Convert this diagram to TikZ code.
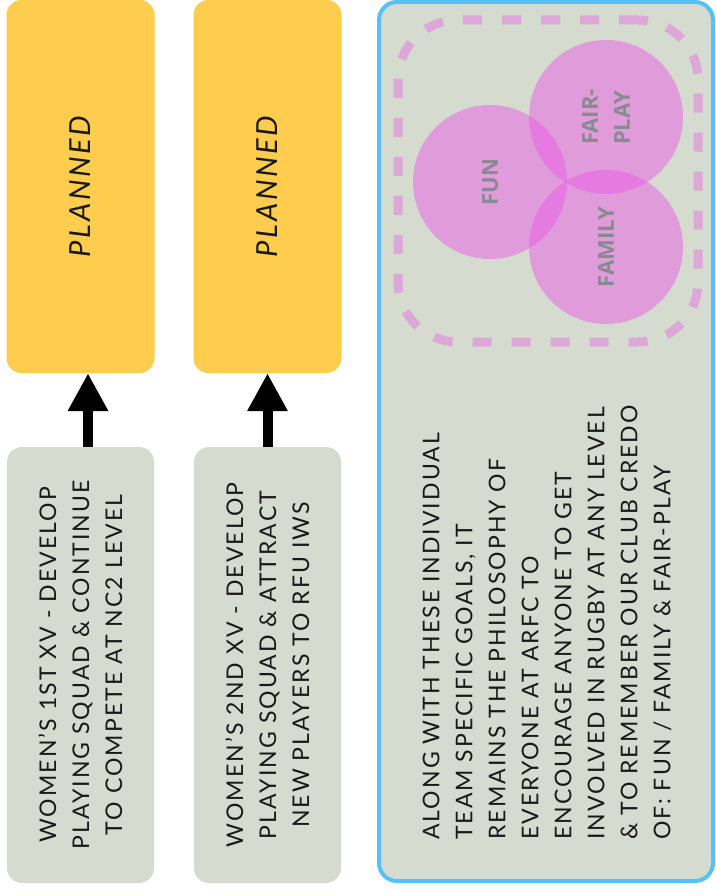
\documentclass[tikz,border=0pt]{standalone}
\usepackage{fontspec}
\setmainfont{Lato}
\newfontfamily\bodyfont[LetterSpace=9]{Lato}
\newfontfamily\vennfont{Open Sans}
\usetikzlibrary{arrows.meta}

\definecolor{planyellow}{RGB}{255,205,77}
\definecolor{goalgrey}{RGB}{214,219,208}
\definecolor{panelblue}{RGB}{85,193,247}
\definecolor{vennpink}{RGB}{234,93,230}
\definecolor{framepink}{RGB}{221,168,216}
\definecolor{vennlabel}{RGB}{135,139,144}
\definecolor{inkblack}{RGB}{25,25,25}

\tikzset{
  planbox/.style={rectangle, rounded corners=15pt, fill=planyellow, rotate=90,
    minimum width=373pt, minimum height=148pt, inner sep=0pt, text=inkblack,
    font=\bodyfont\fontsize{29}{33}\selectfont\itshape},
  goalbox/.style={rectangle, rounded corners=15pt, fill=goalgrey, rotate=90,
    minimum width=436pt, minimum height=147pt, inner sep=0pt, align=center,
    text=inkblack, font=\bodyfont\fontsize{23}{33}\selectfont},
  uparrow/.style={line width=10pt, -{Triangle[length=38pt,width=38pt]}},
  panel/.style={rectangle, rounded corners=18pt, draw=panelblue, line width=4pt,
    fill=goalgrey, minimum width=334pt, minimum height=879pt},
  credobox/.style={rectangle, rounded corners=60pt, draw=framepink, line width=9pt,
    dash pattern=on 19pt off 20pt, minimum width=300pt, minimum height=322pt},
  venn/.style={circle, fill=vennpink, fill opacity=0.5, text opacity=1,
    minimum size=154pt, inner sep=0pt, rotate=90, align=left, text=vennlabel,
    font=\vennfont\fontsize{22}{32}\selectfont\bfseries},
  credotext/.style={rotate=90, anchor=west, inner sep=0pt, text width=440pt,
    align=left, text=inkblack, font=\bodyfont\fontsize{23}{33}\selectfont}
}

\begin{document}
\begin{tikzpicture}[x=1pt, y=-1pt]
  \useasboundingbox (0,0) rectangle (715,896);

  % team goals and their plans
  \foreach \n/\x/\goal in {1/80.5/{WOMEN’S 1ST XV - DEVELOP\\PLAYING SQUAD \& CONTINUE\\TO COMPETE AT NC2 LEVEL},
                           2/267.5/{WOMEN’S 2ND XV - DEVELOP\\PLAYING SQUAD \& ATTRACT\\NEW PLAYERS TO RFU IWS}} {
    \node[planbox] (plan\n) at (\x,186.5) {PLANNED};
    \node[goalbox] (goal\n) at (\x,665) {\goal};
  }
  \draw[uparrow] ([xshift=7.5pt]goal1.east) -- ([xshift=7.5pt]plan1.west);
  \draw[uparrow] (goal2.east) -- (plan2.west);

  % club credo
  \node[panel] (panel) at (546,441.5) {};
  \node[credobox] (frame) at (548,181) {};
  \node[venn] (fun) at (490,182) {FUN};
  \node[venn] (fairplay) at (606,117) {FAIR-\\PLAY};
  \node[venn] (family) at (606,247) {FAMILY};

  \node[credotext] (credo) at (547,840) {ALONG WITH THESE INDIVIDUAL\\
    TEAM SPECIFIC GOALS, IT\\
    REMAINS THE PHILOSOPHY OF\\
    EVERYONE AT ARFC TO\\
    ENCOURAGE ANYONE TO GET\\
    INVOLVED IN RUGBY AT ANY LEVEL\\
    \& TO REMEMBER OUR CLUB CREDO\\
    OF: FUN / FAMILY \& FAIR-PLAY};
\end{tikzpicture}
\end{document}
